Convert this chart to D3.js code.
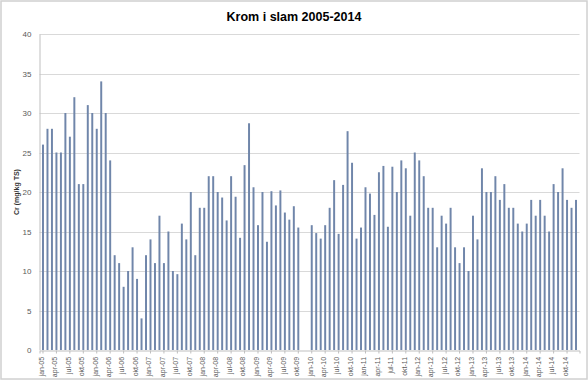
<!DOCTYPE html>
<html><head><meta charset="utf-8">
<script src="https://cdn.jsdelivr.net/npm/d3@7"></script>
<style>body{margin:0;background:#fff}svg{display:block}</style>
</head><body>
<script>
const years = ["05","06","07","08","09","10","11","12","13","14"];
const monthNames = ["jan","feb","mar","apr","mai","jun","jul","aug","sep","okt","nov","des"];
const categories = [];
years.forEach(y => monthNames.forEach(m => categories.push(m + "-" + y)));
const values = [
  26,28,28,25,25,30,27,32,21,21,31,30,
  28,34,30,24,12,11,8,10,13,9,4,12,
  14,11,17,11,15,10,9.6,16,14,20,12,18,
  18,22,22,20,19.3,16.4,22,19.4,14.2,23.4,28.7,20.6,
  15.8,20,13.7,20.1,18.3,20.2,17.4,16.5,18.2,15.5,null,null,
  15.8,14.8,14.1,15.8,18,21.5,14.7,20.9,27.7,23.7,14.1,15.5,
  20.6,19.8,17.1,22.5,23.3,15.6,23.2,20,24,23,17,25,
  24,22,18,18,13,17,16,18,13,11,13,10,
  17,14,23,20,20,22,19,21,18,18,16,15,
  16,19,17,19,17,15,21,20,23,19,18,19
];
const yTicks = [0,5,10,15,20,25,30,35,40];
const title = "Krom i slam 2005-2014";
const yTitle = "Cr (mg/kg TS)";

const W = 588, H = 383;
const m = {left: 39.5, right: 8.5, top: 34, bottom: 33};
const svg = d3.select("body").append("svg").attr("width", W).attr("height", H);

svg.append("rect").attr("x",1).attr("y",1).attr("width",586).attr("height",378)
  .attr("fill","#fff").attr("stroke","#d0d0d0").attr("stroke-width",1.5);

const x = d3.scaleBand().domain(categories).range([m.left, W - m.right]).padding(0.56);
const y = d3.scaleLinear().domain([0,40]).range([H - m.bottom, m.top]);

// gridlines
svg.append("g").selectAll("line").data(yTicks.filter(d=>d>0)).join("line")
  .attr("x1", m.left).attr("x2", W - m.right)
  .attr("y1", d => Math.round(y(d))+0.5).attr("y2", d => Math.round(y(d))+0.5)
  .attr("stroke","#d9d9d9").attr("stroke-width",1);

// bars
svg.append("g").selectAll("rect").data(categories.map((c,i)=>({c, v: values[i]})).filter(d=>d.v!=null))
  .join("rect")
  .attr("x", d => x(d.c)).attr("width", x.bandwidth())
  .attr("y", d => y(d.v)).attr("height", d => y(0) - y(d.v))
  .attr("fill", "#7086aa");

// y axis
const yAxis = d3.axisLeft(y).tickValues(yTicks).tickSize(0).tickPadding(8);
const gy = svg.append("g").attr("transform", `translate(${m.left},0)`).call(yAxis);
gy.select(".domain").attr("stroke","#bfbfbf");
gy.selectAll("text").attr("font-family","Liberation Sans, Arial, sans-serif").attr("font-size",8).attr("fill","#595959");

// x axis
const xLabels = categories.filter((c,i)=> i % 3 === 0);
const xAxis = d3.axisBottom(x).tickValues(xLabels).tickSize(3).tickPadding(2);
const gx = svg.append("g").attr("transform", `translate(0,${Math.round(y(0))+0.5})`).call(xAxis);
gx.select(".domain").attr("stroke","#bfbfbf");
gx.selectAll(".tick line").attr("stroke","#bfbfbf");
gx.selectAll("text")
  .attr("font-family","Liberation Sans, Arial, sans-serif").attr("font-size",7).attr("fill","#595959")
  .attr("text-anchor","end").attr("dx","-0.2em").attr("dy","-0.15em")
  .attr("transform","rotate(-90)")
  .attr("x", -5).attr("y", 0).style("dominant-baseline","middle");

// title
svg.append("text").attr("x", 294).attr("y", 21).attr("text-anchor","middle")
  .attr("font-family","Liberation Sans, Arial, sans-serif").attr("font-weight","bold").attr("font-size",12.5)
  .attr("fill","#000").text(title);

// y title
svg.append("text").attr("transform","translate(19,192) rotate(-90)").attr("text-anchor","middle")
  .attr("font-family","Liberation Sans, Arial, sans-serif").attr("font-weight","bold").attr("font-size",7)
  .attr("fill","#333").text(yTitle);
</script>
</body></html>
